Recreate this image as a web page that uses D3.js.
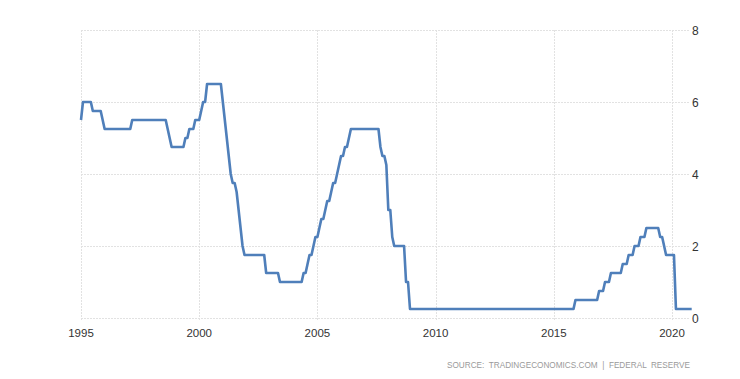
<!DOCTYPE html>
<html>
<head>
<meta charset="utf-8">
<script src="https://cdn.jsdelivr.net/npm/d3@7"></script>
<style>
  html, body { margin: 0; padding: 0; background: #fff; }
  svg { display: block; }
</style>
</head>
<body>
<svg id="chart" width="740" height="379"></svg>
<script>
// ---- data (US Fed funds target rate, monthly, Jan 1995 .. Nov 2020) ----
const firstYear = 1995;
const rate1995_1999 = [
  5.5, 6, 6, 6, 6, 6, 5.75, 5.75, 5.75, 5.75, 5.75, 5.5,          // 1995
  5.25, 5.25, 5.25, 5.25, 5.25, 5.25, 5.25, 5.25, 5.25, 5.25, 5.25, 5.25, // 1996
  5.25, 5.25, 5.5, 5.5, 5.5, 5.5, 5.5, 5.5, 5.5, 5.5, 5.5, 5.5,   // 1997
  5.5, 5.5, 5.5, 5.5, 5.5, 5.5, 5.5, 5.5, 5.25, 5.0, 4.75, 4.75,  // 1998
  4.75, 4.75, 4.75, 4.75, 4.75, 5.0, 5.0, 5.25, 5.25, 5.25, 5.5, 5.5 // 1999
];
const rate2000_2004 = [
  5.5, 5.75, 6.0, 6.0, 6.5, 6.5, 6.5, 6.5, 6.5, 6.5, 6.5, 6.5,    // 2000
  6.0, 5.5, 5.0, 4.5, 4.0, 3.75, 3.75, 3.5, 3.0, 2.5, 2.0, 1.75,  // 2001
  1.75, 1.75, 1.75, 1.75, 1.75, 1.75, 1.75, 1.75, 1.75, 1.75, 1.25, 1.25, // 2002
  1.25, 1.25, 1.25, 1.25, 1.25, 1.0, 1.0, 1.0, 1.0, 1.0, 1.0, 1.0, // 2003
  1.0, 1.0, 1.0, 1.0, 1.0, 1.25, 1.25, 1.5, 1.75, 1.75, 2.0, 2.25 // 2004
];
const rate2005_2009 = [
  2.25, 2.5, 2.75, 2.75, 3.0, 3.25, 3.25, 3.5, 3.75, 3.75, 4.0, 4.25, // 2005
  4.5, 4.5, 4.75, 4.75, 5.0, 5.25, 5.25, 5.25, 5.25, 5.25, 5.25, 5.25, // 2006
  5.25, 5.25, 5.25, 5.25, 5.25, 5.25, 5.25, 5.25, 4.75, 4.5, 4.5, 4.25, // 2007
  3.0, 3.0, 2.25, 2.0, 2.0, 2.0, 2.0, 2.0, 2.0, 1.0, 1.0, 0.25,   // 2008
  0.25, 0.25, 0.25, 0.25, 0.25, 0.25, 0.25, 0.25, 0.25, 0.25, 0.25, 0.25 // 2009
];
const rate2010_2014 = [
  0.25, 0.25, 0.25, 0.25, 0.25, 0.25, 0.25, 0.25, 0.25, 0.25, 0.25, 0.25, // 2010
  0.25, 0.25, 0.25, 0.25, 0.25, 0.25, 0.25, 0.25, 0.25, 0.25, 0.25, 0.25, // 2011
  0.25, 0.25, 0.25, 0.25, 0.25, 0.25, 0.25, 0.25, 0.25, 0.25, 0.25, 0.25, // 2012
  0.25, 0.25, 0.25, 0.25, 0.25, 0.25, 0.25, 0.25, 0.25, 0.25, 0.25, 0.25, // 2013
  0.25, 0.25, 0.25, 0.25, 0.25, 0.25, 0.25, 0.25, 0.25, 0.25, 0.25, 0.25  // 2014
];
const rate2015_2020 = [
  0.25, 0.25, 0.25, 0.25, 0.25, 0.25, 0.25, 0.25, 0.25, 0.25, 0.25, 0.5, // 2015
  0.5, 0.5, 0.5, 0.5, 0.5, 0.5, 0.5, 0.5, 0.5, 0.5, 0.5, 0.75,    // 2016
  0.75, 0.75, 1.0, 1.0, 1.0, 1.25, 1.25, 1.25, 1.25, 1.25, 1.25, 1.5, // 2017
  1.5, 1.5, 1.75, 1.75, 1.75, 2.0, 2.0, 2.0, 2.25, 2.25, 2.25, 2.5, // 2018
  2.5, 2.5, 2.5, 2.5, 2.5, 2.5, 2.25, 2.25, 2.0, 1.75, 1.75, 1.75, // 2019
  1.75, 1.75, 0.25, 0.25, 0.25, 0.25, 0.25, 0.25, 0.25, 0.25, 0.25 // 2020 (to Nov)
];
const xTickYears = [1995, 2000, 2005, 2010, 2015, 2020];
const yTickValues = [0, 2, 4, 6, 8];
const sourceText = "SOURCE:  TRADINGECONOMICS.COM  |  FEDERAL  RESERVE";

const rates = [].concat(rate1995_1999, rate2000_2004, rate2005_2009, rate2010_2014, rate2015_2020);
const series = rates.map((v, i) => ({ t: firstYear + i / 12, v }));

// ---- layout ----
const svg = d3.select("#chart");
const x = d3.scaleLinear().domain([1995, 2020]).range([81, 672]);
const y = d3.scaleLinear().domain([0, 8]).range([318, 30]);
const gridRight = 690;

const gridColor = "#e2e2e2";

// horizontal gridlines
svg.append("g").selectAll("line").data(yTickValues).join("line")
  .attr("x1", x(1995)).attr("x2", gridRight)
  .attr("y1", d => y(d) + 0.5).attr("y2", d => y(d) + 0.5)
  .attr("stroke", gridColor).attr("stroke-width", 1)
  .attr("stroke-dasharray", "2,1");

// vertical gridlines
svg.append("g").selectAll("line").data(xTickYears).join("line")
  .attr("x1", d => Math.round(x(d)) + 0.5).attr("x2", d => Math.round(x(d)) + 0.5)
  .attr("y1", y(8)).attr("y2", y(0) + 3)
  .attr("stroke", gridColor).attr("stroke-width", 1)
  .attr("stroke-dasharray", "2,1");

// x axis labels
svg.append("g").selectAll("text").data(xTickYears).join("text")
  .attr("x", d => x(d)).attr("y", 337)
  .attr("text-anchor", "middle")
  .attr("font-family", "Liberation Sans, Arial, sans-serif")
  .attr("font-size", 11.5)
  .attr("fill", "#333")
  .text(d => d);

// y axis labels (right)
svg.append("g").selectAll("text").data(yTickValues).join("text")
  .attr("x", 692).attr("y", d => y(d) + 4.5)
  .attr("text-anchor", "start")
  .attr("font-family", "Liberation Sans, Arial, sans-serif")
  .attr("font-size", 12)
  .attr("fill", "#333")
  .text(d => d);

// line
const line = d3.line().x(d => x(d.t)).y(d => y(d.v));
svg.append("path").datum(series)
  .attr("d", line)
  .attr("fill", "none")
  .attr("stroke", "#4f7fba")
  .attr("stroke-width", 2.6)
  .attr("stroke-linejoin", "round")
  .attr("stroke-linecap", "butt");

// source
svg.append("text")
  .attr("x", 447).attr("y", 368)
  .attr("text-anchor", "start")
  .attr("font-family", "Liberation Sans, Arial, sans-serif")
  .attr("font-size", 8.5)
  .attr("fill", "#9a9a9a")
  .attr("textLength", 243)
  .attr("lengthAdjust", "spacingAndGlyphs")
  .style("white-space", "pre")
  .text(sourceText);
</script>
</body>
</html>
